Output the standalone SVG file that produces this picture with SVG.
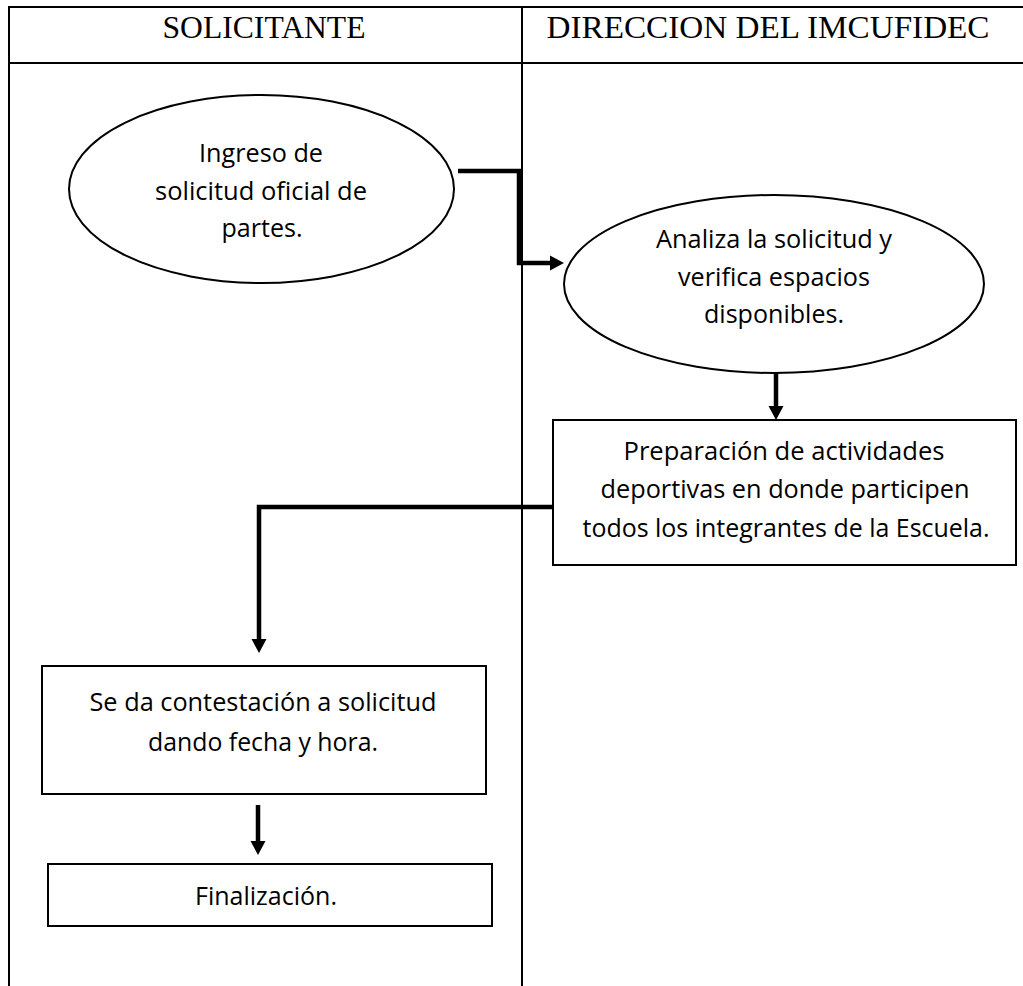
<svg xmlns="http://www.w3.org/2000/svg" width="1023" height="986" viewBox="0 0 1023 986">
  <style>
    .grid { stroke: #000; stroke-width: 2; fill: none; }
    .hdr { font-family: "Liberation Serif", "Times New Roman", serif; font-size: 31px; fill: #000; text-anchor: middle; }
    .shape { fill: #fff; stroke: #000; stroke-width: 2; }
    .lbl { font-family: "Open Sans", "Noto Sans", sans-serif; font-size: 26px; fill: #000; text-anchor: middle; }
    .conn { stroke: #000; stroke-width: 4.5; fill: none; }
  </style>
  <defs>
    <marker id="arrow" markerUnits="userSpaceOnUse" markerWidth="16" markerHeight="16" refX="6" refY="8" orient="auto">
      <path d="M0,0.5 L14,8 L0,15.5 z" fill="#000"/>
    </marker>
  </defs>

  <g id="table">
    <line class="grid" x1="8" y1="7" x2="1023" y2="7"/>
    <line class="grid" x1="8" y1="63" x2="1023" y2="63"/>
    <line class="grid" x1="9" y1="6" x2="9" y2="986"/>
    <line class="grid" x1="522" y1="6" x2="522" y2="986"/>
    <text class="hdr" x="264" y="38" textLength="203" lengthAdjust="spacingAndGlyphs">SOLICITANTE</text>
    <text class="hdr" x="768" y="38" textLength="443" lengthAdjust="spacingAndGlyphs">DIRECCION DEL IMCUFIDEC</text>
  </g>

  <g id="connectors">
    <path class="conn" d="M458,171 H519 V263 H556" marker-end="url(#arrow)"/>
    <path class="conn" d="M776,373 V412" marker-end="url(#arrow)"/>
    <path class="conn" d="M553,507 H259 V645" marker-end="url(#arrow)"/>
    <path class="conn" d="M258,805 V847" marker-end="url(#arrow)"/>
  </g>

  <g id="n1">
    <ellipse class="shape" cx="261.5" cy="189" rx="192.5" ry="94"/>
    <text class="lbl" x="261" y="162" textLength="124" lengthAdjust="spacingAndGlyphs">Ingreso de</text>
    <text class="lbl" x="261" y="200" textLength="212" lengthAdjust="spacingAndGlyphs">solicitud oficial de</text>
    <text class="lbl" x="262" y="237" textLength="81" lengthAdjust="spacingAndGlyphs">partes.</text>
  </g>

  <g id="n2">
    <ellipse class="shape" cx="774" cy="284" rx="210" ry="89"/>
    <text class="lbl" x="774" y="248" textLength="236" lengthAdjust="spacingAndGlyphs">Analiza la solicitud y</text>
    <text class="lbl" x="774" y="286" textLength="192" lengthAdjust="spacingAndGlyphs">verifica espacios</text>
    <text class="lbl" x="774" y="323" textLength="140" lengthAdjust="spacingAndGlyphs">disponibles.</text>
  </g>

  <g id="n3">
    <rect class="shape" x="553" y="420" width="463" height="145"/>
    <text class="lbl" x="784" y="460" textLength="321" lengthAdjust="spacingAndGlyphs">Preparación de actividades</text>
    <text class="lbl" x="785" y="498" textLength="369" lengthAdjust="spacingAndGlyphs">deportivas en donde participen</text>
    <text class="lbl" x="786" y="537" textLength="407" lengthAdjust="spacingAndGlyphs">todos los integrantes de la Escuela.</text>
  </g>

  <g id="n4">
    <rect class="shape" x="42" y="666" width="444" height="128"/>
    <text class="lbl" x="263" y="711" textLength="347" lengthAdjust="spacingAndGlyphs">Se da contestación a solicitud</text>
    <text class="lbl" x="263" y="751" textLength="230" lengthAdjust="spacingAndGlyphs">dando fecha y hora.</text>
  </g>

  <g id="n5">
    <rect class="shape" x="48" y="864" width="444" height="62"/>
    <text class="lbl" x="266" y="905" textLength="142" lengthAdjust="spacingAndGlyphs">Finalización.</text>
  </g>
</svg>
